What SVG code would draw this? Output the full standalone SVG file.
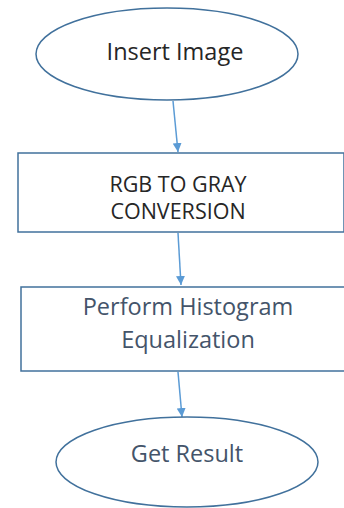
<svg xmlns="http://www.w3.org/2000/svg" width="344" height="508" viewBox="0 0 344 508">
<style>
.shape{fill:#fff;stroke:#41719c;stroke-width:1.5}
.conn{stroke:#5b9bd5;stroke-width:1.5;fill:none}
text{font-family:"Open Sans","Liberation Sans",sans-serif;text-anchor:middle;fill:#262626}
.big{font-size:23.5px}
.cap{font-size:21.5px}
.slate{fill:#44546a}
</style>
<defs>
<marker id="ah" viewBox="0 0 10 10" refX="10" refY="5" markerWidth="9" markerHeight="9" markerUnits="userSpaceOnUse" orient="auto">
<path d="M0,0L10,5L0,10z" fill="#5b9bd5"/>
</marker>
</defs>
<rect width="344" height="508" fill="#fff"/>
<g id="connectors">
<line class="conn" x1="173" y1="101" x2="178" y2="152" marker-end="url(#ah)"/>
<line class="conn" x1="178" y1="233" x2="181" y2="285" marker-end="url(#ah)"/>
<line class="conn" x1="178" y1="372" x2="182" y2="417" marker-end="url(#ah)"/>
</g>
<g id="insert-image">
<ellipse class="shape" cx="167" cy="54" rx="131" ry="46"/>
<text class="big" x="175" y="60">Insert Image</text>
</g>
<g id="rgb-to-gray">
<rect class="shape" x="18" y="153" width="326" height="79"/>
<text class="cap" x="178" y="192" fill="#2a2a40">RGB TO GRAY</text>
<text class="cap" x="178" y="219" fill="#2a2a40">CONVERSION</text>
</g>
<g id="histogram">
<rect class="shape" x="21" y="287" width="325" height="84"/>
<text class="big slate" x="188" y="315">Perform Histogram</text>
<text class="big slate" x="188" y="348">Equalization</text>
</g>
<g id="get-result">
<ellipse class="shape" cx="187" cy="462" rx="131" ry="45"/>
<text class="big slate" x="187" y="462">Get Result</text>
</g>
</svg>
